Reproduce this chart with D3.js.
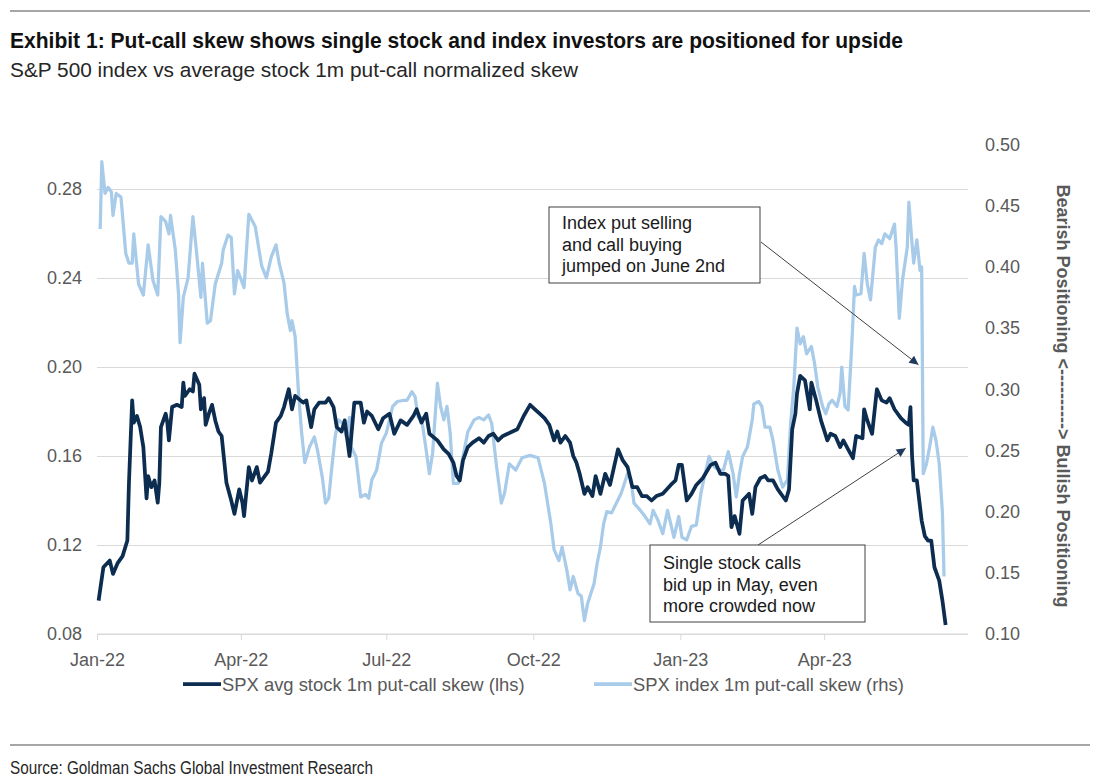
<!DOCTYPE html>
<html lang="en">
  <head>
    <meta charset="UTF-8" />
    <title>Put-call skew</title>
    <style>
      body {
        margin: 0;
        background: #fff;
      }
      svg {
        display: block;
        font-family: "Liberation Sans", Arial, sans-serif;
      }
      .axis path,
      .axis line {
        stroke: #d9d9d9;
      }
      .axis text {
        fill: #595959;
        font-size: 18px;
      }
      .grid line {
        stroke: #d9d9d9;
      }
      .grid path {
        display: none;
      }
    </style>
  </head>
  <body>
    <svg id="chart" width="1100" height="784"></svg>
    <script src="https://d3js.org/d3.v7.min.js"></script>
    <script>
      // SPX avg stock 1m put-call skew (lhs)
      const stockDates = [
        "2022-01-02", "2022-01-05", "2022-01-09", "2022-01-11", "2022-01-14", "2022-01-17", "2022-01-20", "2022-01-21",
        "2022-01-23", "2022-01-24", "2022-01-26", "2022-01-28", "2022-01-30", "2022-02-01", "2022-02-02", "2022-02-04",
        "2022-02-06", "2022-02-08", "2022-02-09", "2022-02-10", "2022-02-13", "2022-02-14", "2022-02-15", "2022-02-17",
        "2022-02-20", "2022-02-23", "2022-02-24", "2022-02-25", "2022-02-28", "2022-03-02", "2022-03-03", "2022-03-06",
        "2022-03-07", "2022-03-09", "2022-03-10", "2022-03-12", "2022-03-14", "2022-03-16", "2022-03-18", "2022-03-20",
        "2022-03-23", "2022-03-26", "2022-03-28", "2022-03-31", "2022-04-02", "2022-04-03", "2022-04-06", "2022-04-08",
        "2022-04-11", "2022-04-13", "2022-04-18", "2022-04-20", "2022-04-23", "2022-04-26", "2022-04-28", "2022-05-01",
        "2022-05-03", "2022-05-05", "2022-05-10", "2022-05-12", "2022-05-15", "2022-05-17", "2022-05-20", "2022-05-24",
        "2022-05-26", "2022-05-29", "2022-05-31", "2022-06-03", "2022-06-05", "2022-06-08", "2022-06-11", "2022-06-15",
        "2022-06-17", "2022-06-19", "2022-06-22", "2022-06-26", "2022-06-29", "2022-07-03", "2022-07-06", "2022-07-10",
        "2022-07-14", "2022-07-18", "2022-07-20", "2022-07-23", "2022-07-26", "2022-07-28", "2022-08-02", "2022-08-06",
        "2022-08-09", "2022-08-12", "2022-08-14", "2022-08-16", "2022-08-18", "2022-08-21", "2022-08-24", "2022-08-28",
        "2022-08-31", "2022-09-03", "2022-09-06", "2022-09-09", "2022-09-12", "2022-09-15", "2022-09-21", "2022-09-25",
        "2022-09-29", "2022-10-02", "2022-10-05", "2022-10-08", "2022-10-11", "2022-10-14", "2022-10-16", "2022-10-18",
        "2022-10-21", "2022-10-24", "2022-10-26", "2022-10-28", "2022-10-30", "2022-11-02", "2022-11-04", "2022-11-07",
        "2022-11-09", "2022-11-12", "2022-11-15", "2022-11-18", "2022-11-23", "2022-11-26", "2022-11-29", "2022-12-02",
        "2022-12-05", "2022-12-08", "2022-12-11", "2022-12-14", "2022-12-17", "2022-12-21", "2022-12-26", "2022-12-29",
        "2022-12-31", "2023-01-02", "2023-01-05", "2023-01-08", "2023-01-11", "2023-01-15", "2023-01-20", "2023-01-23",
        "2023-01-26", "2023-01-29", "2023-01-31", "2023-02-02", "2023-02-04", "2023-02-07", "2023-02-09", "2023-02-13",
        "2023-02-15", "2023-02-17", "2023-02-20", "2023-02-23", "2023-02-25", "2023-02-28", "2023-03-03", "2023-03-08",
        "2023-03-10", "2023-03-12", "2023-03-14", "2023-03-15", "2023-03-17", "2023-03-20", "2023-03-23", "2023-03-24",
        "2023-03-27", "2023-03-30", "2023-04-03", "2023-04-05", "2023-04-08", "2023-04-11", "2023-04-13", "2023-04-16",
        "2023-04-19", "2023-04-21", "2023-04-25", "2023-04-26", "2023-04-28", "2023-05-01", "2023-05-04", "2023-05-07",
        "2023-05-10", "2023-05-12", "2023-05-15", "2023-05-19", "2023-05-22", "2023-05-24", "2023-05-25", "2023-05-26",
        "2023-05-27", "2023-05-29", "2023-06-01", "2023-06-03", "2023-06-05", "2023-06-07", "2023-06-09", "2023-06-12",
        "2023-06-14", "2023-06-16"
      ];
      const stockSkew = [
        0.095, 0.110, 0.113, 0.107, 0.112, 0.115, 0.122, 0.148,
        0.185, 0.175, 0.178, 0.173, 0.164, 0.141, 0.151, 0.146,
        0.149, 0.139, 0.148, 0.173, 0.179, 0.175, 0.167, 0.182,
        0.183, 0.182, 0.193, 0.187, 0.190, 0.189, 0.197, 0.192,
        0.181, 0.186, 0.174, 0.179, 0.183, 0.176, 0.171, 0.169,
        0.148, 0.140, 0.134, 0.145, 0.139, 0.133, 0.155, 0.149,
        0.155, 0.148, 0.153, 0.161, 0.175, 0.178, 0.182, 0.190,
        0.181, 0.187, 0.184, 0.185, 0.173, 0.181, 0.184, 0.184,
        0.186, 0.182, 0.173, 0.171, 0.176, 0.160, 0.184, 0.184,
        0.175, 0.180, 0.178, 0.172, 0.177, 0.179, 0.170, 0.176,
        0.174, 0.178, 0.181, 0.175, 0.179, 0.170, 0.167, 0.163,
        0.161, 0.157, 0.151, 0.149, 0.158, 0.164, 0.166, 0.168,
        0.166, 0.169, 0.170, 0.167, 0.169, 0.170, 0.172, 0.178,
        0.183, 0.181, 0.179, 0.177, 0.174, 0.167, 0.171, 0.166,
        0.169, 0.166, 0.160, 0.157, 0.152, 0.143, 0.146, 0.142,
        0.151, 0.143, 0.152, 0.147, 0.163, 0.158, 0.155, 0.146,
        0.146, 0.142, 0.142, 0.140, 0.142, 0.143, 0.147, 0.149,
        0.156, 0.156, 0.140, 0.143, 0.147, 0.150, 0.156, 0.157,
        0.152, 0.152, 0.151, 0.128, 0.133, 0.125, 0.140, 0.143,
        0.134, 0.146, 0.150, 0.151, 0.149, 0.149, 0.145, 0.140,
        0.145, 0.172, 0.179, 0.188, 0.196, 0.194, 0.181, 0.193,
        0.185, 0.176, 0.167, 0.170, 0.169, 0.164, 0.167, 0.163,
        0.159, 0.169, 0.168, 0.181, 0.176, 0.170, 0.190, 0.185,
        0.184, 0.186, 0.181, 0.177, 0.175, 0.174, 0.182, 0.160,
        0.149, 0.149, 0.131, 0.124, 0.122, 0.122, 0.110, 0.104,
        0.095, 0.084
      ];

      // SPX index 1m put-call skew (rhs)
      const indexDates = [
        "2022-01-03", "2022-01-04", "2022-01-06", "2022-01-08", "2022-01-10", "2022-01-11", "2022-01-13", "2022-01-16",
        "2022-01-19", "2022-01-21", "2022-01-23", "2022-01-24", "2022-01-27", "2022-01-30", "2022-02-02", "2022-02-05",
        "2022-02-08", "2022-02-10", "2022-02-13", "2022-02-15", "2022-02-16", "2022-02-19", "2022-02-21", "2022-02-22",
        "2022-02-24", "2022-02-27", "2022-03-02", "2022-03-04", "2022-03-07", "2022-03-08", "2022-03-11", "2022-03-13",
        "2022-03-16", "2022-03-20", "2022-03-21", "2022-03-24", "2022-03-26", "2022-03-28", "2022-03-30", "2022-04-03",
        "2022-04-06", "2022-04-10", "2022-04-14", "2022-04-17", "2022-04-20", "2022-04-23", "2022-04-25", "2022-04-28",
        "2022-04-30", "2022-05-02", "2022-05-03", "2022-05-05", "2022-05-07", "2022-05-09", "2022-05-11", "2022-05-14",
        "2022-05-17", "2022-05-19", "2022-05-22", "2022-05-24", "2022-05-26", "2022-05-28", "2022-05-30", "2022-06-01",
        "2022-06-04", "2022-06-06", "2022-06-08", "2022-06-09", "2022-06-12", "2022-06-15", "2022-06-18", "2022-06-20",
        "2022-06-22", "2022-06-25", "2022-06-28", "2022-07-01", "2022-07-05", "2022-07-08", "2022-07-12", "2022-07-14",
        "2022-07-17", "2022-07-19", "2022-07-21", "2022-07-23", "2022-07-26", "2022-07-28", "2022-07-30", "2022-08-02",
        "2022-08-04", "2022-08-06", "2022-08-08", "2022-08-10", "2022-08-12", "2022-08-15", "2022-08-18", "2022-08-21",
        "2022-08-25", "2022-08-28", "2022-08-31", "2022-09-03", "2022-09-05", "2022-09-08", "2022-09-11", "2022-09-13",
        "2022-09-16", "2022-09-20", "2022-09-24", "2022-09-29", "2022-10-04", "2022-10-08", "2022-10-12", "2022-10-14",
        "2022-10-17", "2022-10-19", "2022-10-22", "2022-10-24", "2022-10-26", "2022-10-29", "2022-10-31", "2022-11-02",
        "2022-11-04", "2022-11-08", "2022-11-10", "2022-11-12", "2022-11-14", "2022-11-16", "2022-11-19", "2022-11-22",
        "2022-11-25", "2022-11-29", "2022-12-01", "2022-12-03", "2022-12-07", "2022-12-10", "2022-12-13", "2022-12-15",
        "2022-12-18", "2022-12-21", "2022-12-24", "2022-12-28", "2022-12-31", "2023-01-02", "2023-01-05", "2023-01-08",
        "2023-01-11", "2023-01-14", "2023-01-17", "2023-01-19", "2023-01-22", "2023-01-25", "2023-01-28", "2023-01-31",
        "2023-02-03", "2023-02-05", "2023-02-07", "2023-02-09", "2023-02-12", "2023-02-15", "2023-02-16", "2023-02-19",
        "2023-02-21", "2023-02-23", "2023-02-26", "2023-02-28", "2023-03-03", "2023-03-06", "2023-03-09", "2023-03-11",
        "2023-03-13", "2023-03-15", "2023-03-17", "2023-03-19", "2023-03-21", "2023-03-24", "2023-03-26", "2023-03-28",
        "2023-03-31", "2023-04-02", "2023-04-04", "2023-04-06", "2023-04-09", "2023-04-11", "2023-04-12", "2023-04-14",
        "2023-04-16", "2023-04-18", "2023-04-20", "2023-04-21", "2023-04-24", "2023-04-26", "2023-04-28", "2023-04-30",
        "2023-05-03", "2023-05-05", "2023-05-07", "2023-05-09", "2023-05-12", "2023-05-15", "2023-05-16", "2023-05-18",
        "2023-05-20", "2023-05-23", "2023-05-24", "2023-05-26", "2023-05-27", "2023-05-29", "2023-05-31", "2023-06-01",
        "2023-06-02", "2023-06-04", "2023-06-06", "2023-06-08", "2023-06-10", "2023-06-12", "2023-06-14", "2023-06-15"
      ];
      const indexSkew = [
        0.431, 0.486, 0.460, 0.465, 0.461, 0.442, 0.460, 0.457,
        0.411, 0.403, 0.403, 0.427, 0.386, 0.377, 0.418, 0.389,
        0.377, 0.441, 0.437, 0.427, 0.442, 0.414, 0.378, 0.338,
        0.375, 0.391, 0.441, 0.416, 0.375, 0.403, 0.354, 0.356,
        0.386, 0.403, 0.414, 0.426, 0.424, 0.378, 0.397, 0.383,
        0.443, 0.433, 0.401, 0.391, 0.408, 0.418, 0.403, 0.387,
        0.362, 0.348, 0.356, 0.343, 0.299, 0.265, 0.240, 0.253,
        0.261, 0.250, 0.228, 0.207, 0.211, 0.237, 0.261, 0.275,
        0.272, 0.261, 0.277, 0.253, 0.245, 0.212, 0.214, 0.211,
        0.226, 0.234, 0.256, 0.264, 0.286, 0.290, 0.291, 0.291,
        0.298, 0.294, 0.277, 0.277, 0.250, 0.231, 0.248, 0.305,
        0.286, 0.275, 0.286, 0.264, 0.223, 0.223, 0.245, 0.265,
        0.275, 0.277, 0.275, 0.279, 0.272, 0.237, 0.207, 0.215,
        0.239, 0.234, 0.244, 0.246, 0.244, 0.223, 0.190, 0.169,
        0.160, 0.171, 0.152, 0.136, 0.147, 0.133, 0.131, 0.111,
        0.125, 0.141, 0.158, 0.171, 0.190, 0.200, 0.199, 0.207,
        0.215, 0.231, 0.227, 0.207, 0.201, 0.196, 0.190, 0.201,
        0.193, 0.182, 0.201, 0.179, 0.196, 0.179, 0.177, 0.188,
        0.189, 0.216, 0.234, 0.245, 0.237, 0.234, 0.234, 0.249,
        0.231, 0.212, 0.231, 0.245, 0.253, 0.275, 0.288, 0.290,
        0.286, 0.269, 0.269, 0.258, 0.234, 0.220, 0.226, 0.272,
        0.302, 0.350, 0.337, 0.343, 0.329, 0.335, 0.321, 0.302,
        0.286, 0.280, 0.288, 0.291, 0.286, 0.297, 0.318, 0.286,
        0.283, 0.329, 0.384, 0.377, 0.378, 0.411, 0.386, 0.373,
        0.416, 0.422, 0.419, 0.427, 0.423, 0.435, 0.416, 0.358,
        0.389, 0.416, 0.453, 0.419, 0.403, 0.422, 0.397, 0.400,
        0.231, 0.239, 0.253, 0.269, 0.258, 0.239, 0.199, 0.147
      ];

      const xTickDates = ["2022-01-01", "2022-04-01", "2022-07-01", "2022-10-01", "2023-01-01", "2023-04-01"];
      const xTickLabels = ["Jan-22", "Apr-22", "Jul-22", "Oct-22", "Jan-23", "Apr-23"];
      const leftTicks = [0.08, 0.12, 0.16, 0.2, 0.24, 0.28];
      const rightTicks = [0.1, 0.15, 0.2, 0.25, 0.3, 0.35, 0.4, 0.45, 0.5];
      const seriesNames = ["SPX avg stock 1m put-call skew (lhs)", "SPX index 1m put-call skew (rhs)"];

      const noteIndex = ["Index put selling", "and call buying", "jumped on June 2nd"];
      const noteStock = ["Single stock calls", "bid up in May, even", "more crowded now"];
      // arrow targets: [date, value] on the axis of each series
      const noteIndexTarget = ["2023-05-30", 0.32];
      const noteStockTarget = ["2023-05-22", 0.1635];

      const parse = d3.timeParse("%Y-%m-%d");
      const stock = stockDates.map((d, i) => ({ date: parse(d), value: stockSkew[i] }));
      const index = indexDates.map((d, i) => ({ date: parse(d), value: indexSkew[i] }));

      const plotLeft = 97;
      const plotRight = 968;
      const plotTop = 144.5;
      const plotBottom = 634;
      const darkBlue = "#0c2c50";
      const lightBlue = "#a8cbe9";

      const svg = d3.select("#chart");

      const x = d3
        .scaleTime()
        .domain([parse("2022-01-01"), parse("2023-06-30")])
        .range([plotLeft, plotRight]);
      const yL = d3.scaleLinear().domain([0.08, 0.3]).range([plotBottom, plotTop]);
      const yR = d3.scaleLinear().domain([0.1, 0.5]).range([plotBottom, plotTop]);

      // header / footer (narrow fonts squeezed to the reference widths)
      svg.append("line").attr("x1", 10).attr("x2", 1090).attr("y1", 11).attr("y2", 11)
        .attr("stroke", "#a6a6a6").attr("stroke-width", 2);
      svg.append("text").attr("x", 10).attr("y", 48)
        .attr("font-size", 21.5).attr("font-weight", "bold").attr("fill", "#111")
        .attr("textLength", 893).attr("lengthAdjust", "spacingAndGlyphs")
        .text("Exhibit 1: Put-call skew shows single stock and index investors are positioned for upside");
      svg.append("text").attr("x", 10).attr("y", 77)
        .attr("font-size", 20.5).attr("fill", "#262626")
        .attr("textLength", 568).attr("lengthAdjust", "spacingAndGlyphs")
        .text("S&P 500 index vs average stock 1m put-call normalized skew");
      svg.append("line").attr("x1", 10).attr("x2", 1090).attr("y1", 745).attr("y2", 745)
        .attr("stroke", "#a6a6a6").attr("stroke-width", 2);
      svg.append("text").attr("x", 10).attr("y", 774)
        .attr("font-size", 17.5).attr("fill", "#262626")
        .attr("textLength", 363).attr("lengthAdjust", "spacingAndGlyphs")
        .text("Source: Goldman Sachs Global Investment Research");

      // gridlines
      svg.append("g").attr("class", "grid")
        .attr("transform", `translate(${plotLeft},0)`)
        .call(d3.axisLeft(yL).tickValues(leftTicks).tickSize(-(plotRight - plotLeft)).tickFormat(""));

      // axes
      svg.append("g").attr("class", "axis")
        .attr("transform", `translate(${plotLeft},0)`)
        .call(d3.axisLeft(yL).tickValues(leftTicks).tickSize(0).tickPadding(15).tickFormat(d3.format(".2f")))
        .call((g) => g.select(".domain").remove());

      svg.append("g").attr("class", "axis")
        .attr("transform", `translate(${plotRight},0)`)
        .call(d3.axisRight(yR).tickValues(rightTicks).tickSize(0).tickPadding(17).tickFormat(d3.format(".2f")))
        .call((g) => g.select(".domain").remove());

      svg.append("g").attr("class", "axis")
        .attr("transform", `translate(0,${plotBottom})`)
        .call(
          d3.axisBottom(x)
            .tickValues(xTickDates.map(parse))
            .tickSize(6)
            .tickPadding(13)
            .tickFormat((d, i) => xTickLabels[i])
        )
        .call((g) => g.select(".domain").attr("d", `M${plotLeft},0H${plotRight}`));

      svg.append("text")
        .attr("transform", "translate(1062,396) rotate(90)")
        .attr("text-anchor", "middle").attr("dominant-baseline", "middle")
        .attr("font-size", 18).attr("font-weight", "bold").attr("fill", "#595959")
        .text("Bearish Positioning <----------> Bullish Positioning");

      // series
      svg.append("path").datum(index)
        .attr("fill", "none").attr("stroke", lightBlue).attr("stroke-width", 3.25)
        .attr("stroke-linejoin", "round")
        .attr("d", d3.line().x((d) => x(d.date)).y((d) => yR(d.value)));

      svg.append("path").datum(stock)
        .attr("fill", "none").attr("stroke", darkBlue).attr("stroke-width", 3.75)
        .attr("stroke-linejoin", "round")
        .attr("d", d3.line().x((d) => x(d.date)).y((d) => yL(d.value)));

      // legend
      const legend = [
        { name: seriesNames[0], color: darkBlue, x: 183 },
        { name: seriesNames[1], color: lightBlue, x: 594 },
      ];
      const lg = svg.selectAll(".legend").data(legend).enter().append("g")
        .attr("transform", (d) => `translate(${d.x},684)`);
      lg.append("line").attr("x1", 0).attr("x2", 38)
        .attr("stroke", (d) => d.color).attr("stroke-width", 3.75);
      lg.append("text").attr("x", 39).attr("y", 6.5)
        .attr("font-size", 18.4).attr("fill", "#595959")
        .text((d) => d.name);

      // annotations
      const defs = svg.append("defs");
      defs.append("marker").attr("id", "arrow")
        .attr("viewBox", "0 0 10 10").attr("refX", 10).attr("refY", 5)
        .attr("markerWidth", 11).attr("markerHeight", 9)
        .attr("markerUnits", "userSpaceOnUse").attr("orient", "auto")
        .append("path").attr("d", "M0,0L10,5L0,10Z").attr("fill", "#1f3a5c");

      const notes = [
        { lines: noteIndex, box: [549, 207, 211, 76], from: [761, 242],
          to: [x(parse(noteIndexTarget[0])), yR(noteIndexTarget[1])], first: 229 },
        { lines: noteStock, box: [650, 545, 215, 77], from: [758, 545],
          to: [x(parse(noteStockTarget[0])), yL(noteStockTarget[1])], first: 569 },
      ];

      notes.forEach((n) => {
        svg.append("line")
          .attr("x1", n.from[0]).attr("y1", n.from[1])
          .attr("x2", n.to[0]).attr("y2", n.to[1])
          .attr("stroke", "#404040").attr("stroke-width", 1)
          .attr("marker-end", "url(#arrow)");
        svg.append("rect")
          .attr("x", n.box[0]).attr("y", n.box[1])
          .attr("width", n.box[2]).attr("height", n.box[3])
          .attr("fill", "#fff").attr("stroke", "#404040").attr("stroke-width", 1);
        svg.append("g").selectAll("text").data(n.lines).enter().append("text")
          .attr("x", n.box[0] + 13)
          .attr("y", (d, i) => n.first + i * 21.5)
          .attr("font-size", 18).attr("fill", "#1a1a1a")
          .text((d) => d);
      });
    </script>
  </body>
</html>
